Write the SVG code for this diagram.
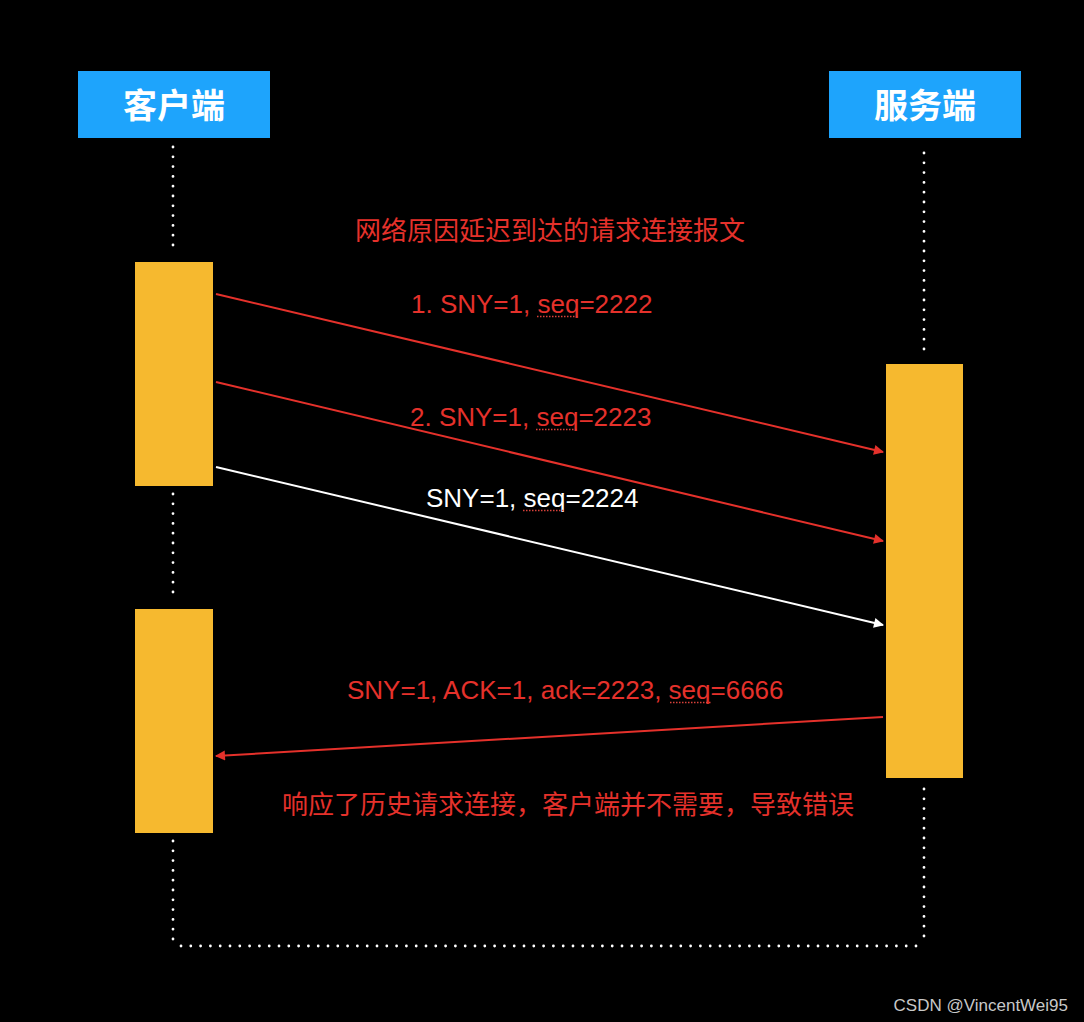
<svg xmlns="http://www.w3.org/2000/svg" width="1084" height="1022" viewBox="0 0 1084 1022">
<style>
.hdr{fill:#1ea4fc}
.hdrt{fill:#ffffff;font-family:"Noto Sans CJK SC","Noto Sans",sans-serif;font-weight:bold;font-size:34px;text-anchor:middle}
.act{fill:#f6b92f}
.life{fill:none;stroke:#ffffff;stroke-width:2.8;stroke-linecap:round;stroke-dasharray:0 9.8}
.msg{fill:none;stroke-width:2}
.red{stroke:#e5312b}
.wht{stroke:#ffffff}
.lbl{font-family:"Liberation Sans",Arial,sans-serif;font-size:26px}
.cn{font-family:"Noto Sans CJK SC","Noto Sans",sans-serif;font-size:26px;fill:#e5312b}
.uline{stroke:#d8413a;stroke-width:1.5;stroke-dasharray:1.5 1.5;fill:none}
</style>
<defs>
<marker id="ar" viewBox="0 0 10 10" refX="9" refY="5" markerWidth="6" markerHeight="5" orient="auto" markerUnits="strokeWidth"><path d="M0,0 L10,5 L0,10 z" fill="#e5312b"/></marker>
<marker id="aw" viewBox="0 0 10 10" refX="9" refY="5" markerWidth="6" markerHeight="5" orient="auto" markerUnits="strokeWidth"><path d="M0,0 L10,5 L0,10 z" fill="#ffffff"/></marker>
</defs>
<rect width="1084" height="1022" fill="#000000"/>

<g id="lifelines">
<path class="life" d="M173,147 V245.5"/>
<path class="life" d="M173,494 V592.5"/>
<path class="life" d="M173,841 V939.5 M181,946 H916.5 M924,789 V939.5"/>
<path class="life" d="M924,153 V349.5"/>
</g>

<g id="client">
<rect class="hdr" x="78" y="71" width="192" height="67"/>
<text class="hdrt" x="174" y="118">客户端</text>
</g>
<g id="server">
<rect class="hdr" x="829" y="71" width="192" height="67"/>
<text class="hdrt" x="925" y="118">服务端</text>
</g>
<g id="client-act1"><rect class="act" x="135" y="262" width="78" height="224"/></g>
<g id="client-act2"><rect class="act" x="135" y="609" width="78" height="224"/></g>
<g id="server-act"><rect class="act" x="886" y="364" width="77" height="414"/></g>

<g id="connectors">
<line class="msg red" x1="216" y1="294" x2="883" y2="452" marker-end="url(#ar)"/>
<line class="msg red" x1="216" y1="382" x2="883" y2="541" marker-end="url(#ar)"/>
<line class="msg wht" x1="216" y1="467" x2="883" y2="625" marker-end="url(#aw)"/>
<line class="msg red" x1="883" y1="717" x2="216" y2="756" marker-end="url(#ar)"/>
</g>

<g id="labels">
<text class="cn" x="550" y="240" text-anchor="middle">网络原因延迟到达的请求连接报文</text>
<text class="lbl" x="411" y="313" fill="#e5312b">1. SNY=1, seq=2222</text>
<path class="uline" d="M537,316.5 H579"/>
<text class="lbl" x="410" y="426" fill="#e5312b">2. SNY=1, seq=2223</text>
<path class="uline" d="M536,429.5 H578"/>
<text class="lbl" x="426" y="507" fill="#ffffff">SNY=1, seq=2224</text>
<path class="uline" d="M523,510.5 H565"/>
<text class="lbl" x="347" y="699" fill="#e5312b">SNY=1, ACK=1, ack=2223, seq=6666</text>
<path class="uline" d="M670,702.5 H712"/>
<text class="cn" x="568" y="814" text-anchor="middle">响应了历史请求连接，客户端并不需要，导致错误</text>
</g>

<text x="1068" y="1011" text-anchor="end" font-family="Liberation Sans,Arial,sans-serif" font-size="17" fill="#c8c8c8">CSDN @VincentWei95</text>
</svg>
